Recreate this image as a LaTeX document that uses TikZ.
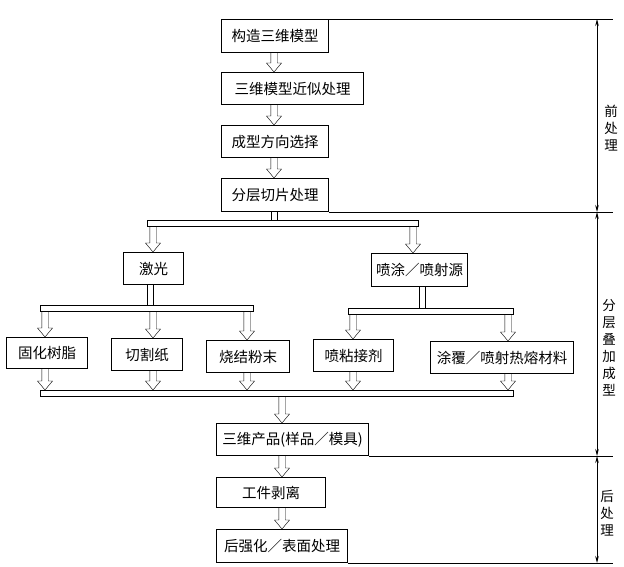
\documentclass[tikz,border=0pt]{standalone}
\usepackage{fontspec}
\newfontfamily\cjk{Noto Sans CJK SC}
\usetikzlibrary{calc,arrows.meta}
\begin{document}
\begin{tikzpicture}[x=1pt,y=-1pt,
  box/.style={draw,line width=1pt,inner sep=0pt,anchor=north west,font=\cjk\fontsize{14.5}{16}\selectfont},
  bar/.style={draw,line width=0.9pt,inner sep=0pt,anchor=north west,minimum height=6pt},
  hollow/.style={line width=0.8pt,to path={let \p1=(\tikztostart),\p2=(\tikztotarget) in
     (\x1-3.2pt,\y1) -- (\x1-3.2pt,\y2+9pt) -- (\x1-7.5pt,\y2+9pt) -- (\x1,\y2)
     -- (\x1+7.5pt,\y2+9pt) -- (\x1+3.2pt,\y2+9pt) -- (\x1+3.2pt,\y1)}},
  stem/.style={line width=0.8pt,to path={let \p1=(\tikztostart),\p2=(\tikztotarget) in
     (\x1-3.2pt,\y1) -- (\x1-3.2pt,\y2) (\x1+3.2pt,\y1) -- (\x1+3.2pt,\y2)}},
  dim/.style={line width=0.7pt,{Stealth[length=7pt,width=3.5pt]}-{Stealth[length=7pt,width=3.5pt]}},
  ext/.style={line width=0.8pt},
  vlab/.style={font=\cjk\fontsize{13.5}{17}\selectfont,align=center,inner sep=0pt}
]
\useasboundingbox (0,0) rectangle (624,567);

% x positions of connectors
\coordinate (cA) at (274,0);
\coordinate (cB) at (153,0);
\coordinate (cC) at (413,0);
\coordinate (cD) at (150,0);
\coordinate (cE) at (422,0);
\coordinate (c1) at (45,0);
\coordinate (c2) at (153,0);
\coordinate (c3) at (247,0);
\coordinate (c4) at (353,0);
\coordinate (c5) at (508,0);
\coordinate (cF) at (282,0);
\coordinate (ex) at (613,0);
\coordinate (dx) at (597,0);

% pre-processing
\node[box,minimum width=107pt,minimum height=33pt] (m1) at (221,19) {构造三维模型};
\node[box,minimum width=142pt,minimum height=32pt] (m2) at (221,72) {三维模型近似处理};
\node[box,minimum width=107pt,minimum height=32pt] (m3) at (221,125) {成型方向选择};
\node[box,minimum width=107pt,minimum height=33pt] (m4) at (221,178) {分层切片处理};

\draw (m1.south -| cA) to[hollow] (m2.north -| cA);
\draw (m2.south -| cA) to[hollow] (m3.north -| cA);
\draw (m3.south -| cA) to[hollow] (m4.north -| cA);

% layer build-up
\node[bar,minimum width=271pt] (b1) at (147,220) {};
\draw (m4.south -| cA) to[stem] (b1.north -| cA);

\node[box,minimum width=60pt,minimum height=32pt] (jg) at (123,252) {激光};
\node[box,minimum width=96pt,minimum height=33pt] (pt) at (371,253) {喷涂／喷射源};
\draw (b1.south -| cB) to[hollow] (jg.north -| cB);
\draw (b1.south -| cC) to[hollow] (pt.north -| cC);

\node[bar,minimum width=213pt] (b2) at (40,305) {};
\node[bar,minimum width=165pt,minimum height=5.5pt] (b3) at (348,308) {};
\draw (jg.south -| cD) to[stem] (b2.north -| cD);
\draw (pt.south -| cE) to[stem] (b3.north -| cE);

\node[box,minimum width=81pt,minimum height=31pt] (r1) at (6,337) {固化树脂};
\node[box,minimum width=71pt,minimum height=32pt] (r2) at (111,338) {切割纸};
\node[box,minimum width=83pt,minimum height=32pt] (r3) at (206,340) {烧结粉末};
\node[box,minimum width=80pt,minimum height=32pt] (r4) at (313,339) {喷粘接剂};
\node[box,minimum width=143pt,minimum height=32pt] (r5) at (430,341) {涂覆／喷射热熔材料};

\draw (b2.south -| c1) to[hollow] (r1.north -| c1);
\draw (b2.south -| c2) to[hollow] (r2.north -| c2);
\draw (b2.south -| c3) to[hollow] (r3.north -| c3);
\draw (b3.south -| c4) to[hollow] (r4.north -| c4);
\draw (b3.south -| c5) to[hollow] (r5.north -| c5);

\node[bar,minimum width=473pt] (b4) at (40,390) {};
\draw (r1.south -| c1) to[hollow] (b4.north -| c1);
\draw (r2.south -| c2) to[hollow] (b4.north -| c2);
\draw (r3.south -| c3) to[hollow] (b4.north -| c3);
\draw (r4.south -| c4) to[hollow] (b4.north -| c4);
\draw (r5.south -| c5) to[hollow] (b4.north -| c5);

% post-processing
\node[box,minimum width=152pt,minimum height=32pt] (p1) at (216,423) {三维产品(样品／模具)};
\node[box,minimum width=109pt,minimum height=30pt] (p2) at (216,477) {工件剥离};
\node[box,minimum width=131pt,minimum height=33pt] (p3) at (216,529) {后强化／表面处理};
\draw (b4.south -| cF) to[hollow] (p1.north -| cF);
\draw (p1.south -| cF) to[hollow] (p2.north -| cF);
\draw (p2.south -| cF) to[hollow] (p3.north -| cF);

% extension lines
\draw[ext] (m1.north east) -- (m1.north east -| ex);
\draw[ext] (m4.south east) -- (m4.south east -| ex);
\draw[ext] (p1.south east) -- (p1.south east -| ex);
\draw[ext] (p3.south east) -- (p3.south east -| ex);

% dimension lines
\draw[dim] (m1.north -| dx) -- (m4.south -| dx);
\draw[dim] (m4.south -| dx) -- (p1.south -| dx);
\draw[dim] (p1.south -| dx) -- (p3.south -| dx);

\node[vlab] (l1) at (611,128) {前\\处\\理};
\node[vlab] (l2) at (609,348) {分\\层\\叠\\加\\成\\型};
\node[vlab] (l3) at (607,513) {后\\处\\理};
\end{tikzpicture}
\end{document}
